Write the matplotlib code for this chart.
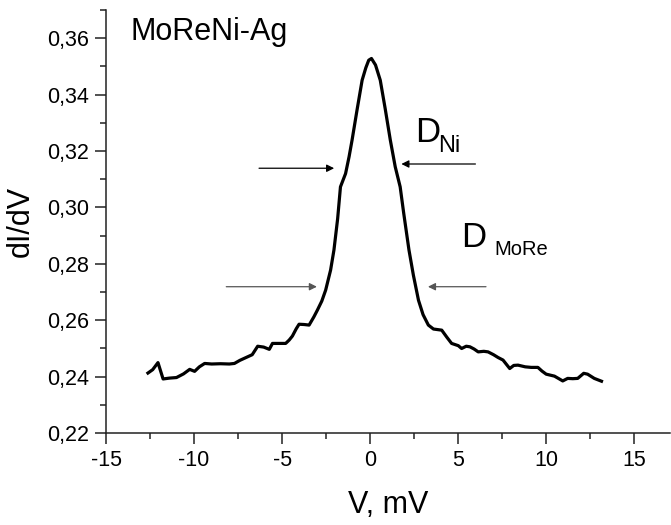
import numpy as np
import matplotlib
matplotlib.use("Agg")
import matplotlib.pyplot as plt
from matplotlib.ticker import MultipleLocator, FuncFormatter

plt.rcParams['font.family'] = ['Liberation Sans', 'DejaVu Sans']
plt.rcParams['axes.unicode_minus'] = False

# dI/dV curve
v = [-12.62, -12.35, -12.05, -11.9, -11.76, -11.4, -11.0, -10.6, -10.25, -9.97,
     -9.7, -9.4, -9.0, -8.5, -8.0, -7.71, -7.4, -7.05, -6.7, -6.39, -6.05,
     -5.73, -5.55, -5.2, -4.8, -4.6, -4.42, -4.2, -4.04, -3.75, -3.47, -3.2,
     -3.0, -2.75, -2.53, -2.25, -2.06, -1.85, -1.69, -1.40, -1.2, -1.03, -0.75,
     -0.46, -0.25, -0.085, 0.07, 0.3, 0.57, 0.85, 1.14, 1.42, 1.70, 1.9, 2.2,
     2.45, 2.74, 3.0, 3.3, 3.59, 4.06, 4.35, 4.62, 5.0, 5.19, 5.45, 5.66, 5.9,
     6.13, 6.45, 6.69, 7.0, 7.26, 7.54, 7.92, 8.15, 8.39, 8.8, 9.14, 9.52,
     9.75, 9.99, 10.46, 10.93, 11.21, 11.5, 11.78, 12.12, 12.34, 12.72, 13.13]
didv = [0.2413, 0.2425, 0.2450, 0.2420, 0.2392, 0.2395, 0.2397, 0.2410, 0.2426, 0.2419,
        0.2435, 0.2447, 0.2445, 0.2446, 0.2445, 0.2447, 0.2458, 0.2468, 0.2478, 0.2508, 0.2505,
        0.2497, 0.2518, 0.2518, 0.2518, 0.2530, 0.2544, 0.2570, 0.2586, 0.2585, 0.2583, 0.2612,
        0.2636, 0.2668, 0.2707, 0.2778, 0.2849, 0.2960, 0.3073, 0.3120, 0.3180, 0.3239, 0.3345,
        0.3451, 0.3495, 0.3522, 0.3528, 0.3505, 0.3451, 0.3350, 0.3239, 0.3144, 0.3073, 0.2980, 0.2849,
        0.2760, 0.2671, 0.2620, 0.2583, 0.2569, 0.2565, 0.2540, 0.2518, 0.2510, 0.2500, 0.2508, 0.2506, 0.2498,
        0.2488, 0.2490, 0.2488, 0.2478, 0.2468, 0.2459, 0.2429, 0.2440, 0.2441, 0.2435, 0.2433, 0.2433,
        0.2420, 0.2409, 0.2402, 0.2385, 0.2394, 0.2393, 0.2394, 0.2412, 0.2409, 0.2394, 0.2384]

fig = plt.figure(figsize=(6.71, 5.25), dpi=100)
ax = fig.add_axes([0.158, 0.175, 0.84, 0.806])

ax.plot(v, didv, color='black', lw=2.3)

# arrows marking the two features
arr = dict(arrowstyle='-|>', color='black', lw=0.9, mutation_scale=11)
ax.annotate('', xy=(-1.89, 0.3139), xytext=(-6.47, 0.3139), arrowprops=arr)
ax.annotate('', xy=(1.61, 0.3154), xytext=(6.13, 0.3154), arrowprops=arr)
arr2 = dict(arrowstyle='-|>', color='#555555', lw=0.9, mutation_scale=11)
ax.annotate('', xy=(-2.87, 0.2719), xytext=(-8.33, 0.2719), arrowprops=arr2)
ax.annotate('', xy=(3.12, 0.2719), xytext=(6.73, 0.2719), arrowprops=arr2)

ax.text(-13.6, 0.3595, 'MoReNi-Ag', fontsize=22, va='baseline')
ax.text(2.57, 0.3232, 'D', fontsize=25, va='baseline')
ax.text(3.87, 0.3196, 'Ni', fontsize=17, va='baseline')
ax.text(5.17, 0.2859, 'D', fontsize=25, va='baseline')
ax.text(7.03, 0.2831, 'MoRe', fontsize=14.5, va='baseline')

ax.set_xlim(-15, 17)
ax.set_ylim(0.22, 0.37)
ax.xaxis.set_major_locator(MultipleLocator(5))
ax.xaxis.set_minor_locator(MultipleLocator(2.5))
ax.yaxis.set_major_locator(MultipleLocator(0.02))
ax.yaxis.set_minor_locator(MultipleLocator(0.01))
ax.yaxis.set_major_formatter(FuncFormatter(lambda y, p: f'{y:.2f}'.replace('.', ',')))

for s in ['top', 'right']:
    ax.spines[s].set_visible(False)
for s in ['left', 'bottom']:
    ax.spines[s].set_color('#222222')
    ax.spines[s].set_linewidth(1.1)
ax.tick_params(which='major', direction='out', length=8, width=1.1, labelsize=15.5, pad=4, color='#222222')
ax.tick_params(which='minor', direction='out', length=4, width=1.1, color='#222222')

ax.set_xlabel('V, mV', fontsize=22, labelpad=14)
ax.set_ylabel('dI/dV', fontsize=22, labelpad=8)

fig.savefig('out.png', dpi=100)
